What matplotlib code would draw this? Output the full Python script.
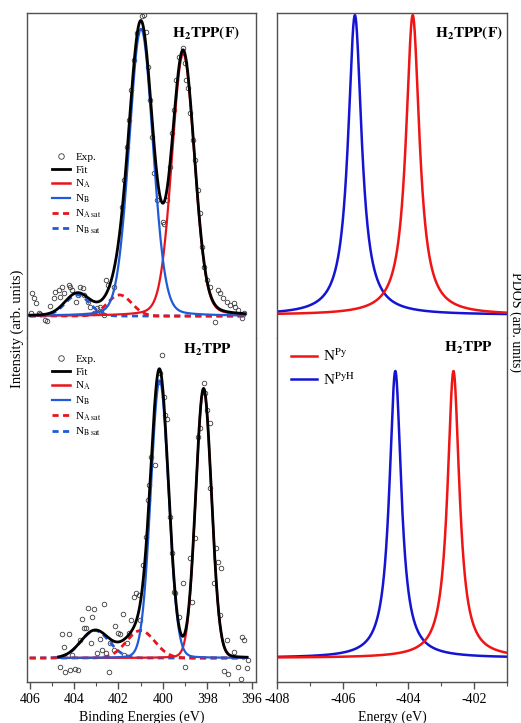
import numpy as np
import matplotlib.pyplot as plt
from matplotlib.lines import Line2D
from matplotlib.ticker import MultipleLocator

plt.rcParams['font.family'] = ['Liberation Serif', 'DejaVu Serif']
plt.rcParams['mathtext.fontset'] = 'stix'
plt.rcParams['axes.unicode_minus'] = False

# XPS N1s fit components: centre (eV), height, FWHM (eV), lorentzian fraction
# order: N_A, N_B, N_A sat, N_B sat
f_centre = [399.08, 400.98, 401.95, 403.85]
f_height = [0.895, 0.98, 0.072, 0.072]
f_fwhm = [1.20, 1.26, 1.30, 1.30]
f_eta = [0.15, 0.12, 0.0, 0.0]

p_centre = [398.16, 400.14, 401.00, 403.05]
p_height = [0.93, 0.96, 0.095, 0.095]
p_fwhm = [0.84, 0.94, 1.50, 1.50]
p_eta = [0.05, 0.05, 0.0, 0.0]

# measured points, H2TPP(F)
f_exp_e = [405.89, 405.82, 405.71, 405.92, 405.59, 405.52, 405.32, 405.22, 405.07, 404.92,
           404.84, 404.69, 404.62, 404.54, 404.47, 404.24, 404.17, 404.09, 403.72, 403.59,
           403.84, 403.57, 403.39, 403.90, 403.27, 403.09, 402.96, 402.85, 402.78, 402.67,
           402.55, 402.49, 402.22, 401.84, 401.73, 401.61, 401.52, 401.42, 401.31, 401.16,
           400.94, 400.86, 400.76, 400.67, 400.59, 400.49, 400.38, 400.26, 399.99, 399.96,
           399.81, 399.69, 399.59, 399.51, 399.41, 399.29, 399.09, 399.02, 398.94, 398.88,
           398.76, 398.64, 398.54, 398.43, 398.34, 398.23, 398.13, 398.01, 397.89, 397.64,
           397.53, 397.41, 397.29, 397.11, 396.96, 396.81, 396.73, 396.59, 396.43, 396.36]
f_exp_i = [0.077, 0.063, 0.043, 0.009, 0.009, 0.007, -0.014, -0.016, 0.034, 0.060,
           0.083, 0.089, 0.064, 0.098, 0.077, 0.106, 0.098, 0.089, 0.100, 0.095,
           0.072, 0.072, 0.049, 0.049, 0.032, 0.011, 0.026, 0.032, 0.015, 0.003,
           0.123, 0.106, 0.100, 0.373, 0.464, 0.578, 0.669, 0.771, 0.874, 0.965,
           1.024, 1.027, 0.970, 0.851, 0.737, 0.612, 0.487, 0.396, 0.322, 0.314,
           0.396, 0.510, 0.624, 0.703, 0.805, 0.885, 0.914, 0.862, 0.805, 0.777,
           0.692, 0.600, 0.532, 0.430, 0.350, 0.237, 0.168, 0.123, 0.100, -0.019,
           0.089, 0.077, 0.060, 0.049, 0.038, 0.043, 0.032, 0.020, -0.008, 0.009]

# measured points, H2TPP
p_exp_e = [404.62, 404.54, 404.47, 404.39, 404.24, 404.17, 404.09, 403.94, 403.84, 403.75,
           403.64, 403.57, 403.45, 403.39, 403.19, 403.09, 403.23, 402.96, 402.85, 402.74,
           402.64, 402.55, 402.44, 402.36, 402.22, 402.14, 402.04, 401.95, 401.79, 401.73,
           401.61, 401.54, 401.42, 401.28, 401.19, 401.09, 401.01, 400.89, 400.76, 400.67,
           400.61, 400.53, 400.37, 400.23, 400.14, 400.04, 399.96, 399.89, 399.81, 399.66,
           399.59, 399.51, 399.44, 399.29, 399.09, 398.99, 398.76, 398.68, 398.54, 398.43,
           398.31, 398.16, 398.09, 398.01, 397.89, 397.86, 397.68, 397.59, 397.53, 397.38,
           397.41, 397.11, 397.23, 397.04, 396.81, 396.59, 396.48, 396.43, 396.33, 396.21,
           396.16]
p_exp_i = [-0.032, 0.083, 0.039, -0.047, 0.083, -0.042, 0.010, -0.039, -0.042, 0.062,
           0.134, 0.103, 0.103, 0.174, 0.143, 0.168, 0.051, 0.016, 0.065, 0.028,
           0.187, 0.016, -0.047, 0.051, 0.028, 0.111, 0.085, 0.083, 0.152, 0.010,
           0.051, 0.085, 0.131, 0.212, 0.224, 0.218, 0.131, 0.322, 0.420, 0.547,
           0.599, 0.697, 0.668, 0.956, 0.985, 1.048, 0.904, 0.841, 0.826, 0.489,
           0.362, 0.229, 0.224, 0.143, 0.258, -0.030, 0.345, 0.195, 0.414, 0.766,
           0.795, 0.950, 0.916, 0.858, 0.812, 0.587, 0.258, 0.380, 0.333, 0.310,
           0.149, 0.062, -0.044, -0.056, 0.022, -0.030, -0.074, 0.074, 0.062, -0.036,
           -0.007]

# PDOS levels: centre (eV), lorentzian half width (eV); order N^Py, N^PyH
dos_f_centre = [-403.87, -405.63]
dos_f_gamma = [0.25, 0.25]
dos_p_centre = [-402.63, -404.40]
dos_p_gamma = [0.22, 0.22]

RED = '#e8141c'
BLUE = '#1f5bd8'
DRED = '#f01414'
DBLUE = '#1414d2'
SPINE = '#505050'


def pvoigt(x, c, h, fwhm, eta):
    u = (x - c) / (fwhm / 2)
    return h * ((1 - eta) * np.exp(-np.log(2) * u**2) + eta / (1 + u**2))


def lorentz(x, c, g):
    return 1 / (1 + ((x - c) / g)**2)


fig = plt.figure(figsize=(5.21, 7.23), dpi=100)
axLT = fig.add_axes([0.0518, 0.5325, 0.4395, 0.4495])
axLB = fig.add_axes([0.0518, 0.0567, 0.4395, 0.4758])
axRT = fig.add_axes([0.5317, 0.5325, 0.4415, 0.4495])
axRB = fig.add_axes([0.5317, 0.0567, 0.4415, 0.4758])

for ax in (axLT, axLB, axRT, axRB):
    ax.set_yticks([])
    for s in ax.spines.values():
        s.set_color(SPINE)
        s.set_linewidth(1.0)
for ax in (axLT, axRT):
    ax.spines['bottom'].set_visible(False)
    ax.set_xticks([])
for ax in (axLB, axRB):
    ax.spines['top'].set_visible(False)


def xps_panel(ax, cen, hgt, fw, eta, ee, ii, erange, ylim):
    x = np.linspace(erange[0], erange[1], 800)
    xs = np.linspace(406.0, 396.3, 800)
    comps = [pvoigt(x, cen[k], hgt[k], fw[k], eta[k]) for k in range(4)]
    fit = np.sum(comps, axis=0)
    ax.plot(ee, ii, 'o', mfc='none', mec='#3a3a3a', ms=3.3, mew=0.6, zorder=2)
    ax.plot(xs, pvoigt(xs, cen[3], hgt[3], fw[3], eta[3]), color=BLUE, lw=2.0,
            ls=(0, (2.2, 1.6)), zorder=3)
    ax.plot(xs, pvoigt(xs, cen[2], hgt[2], fw[2], eta[2]), color=RED, lw=2.0,
            ls=(0, (2.2, 1.6)), zorder=3)
    ax.plot(x, comps[0], color=RED, lw=1.6, zorder=4)
    ax.plot(x, comps[1], color=BLUE, lw=1.6, zorder=4)
    ax.plot(x, fit, color='black', lw=2.0, zorder=5)
    ax.set_xlim(406.12, 395.8)
    ax.set_ylim(*ylim)


xps_panel(axLT, f_centre, f_height, f_fwhm, f_eta, f_exp_e, f_exp_i,
          (406.0, 396.3), (-0.075, 1.034))
xps_panel(axLB, p_centre, p_height, p_fwhm, p_eta, p_exp_e, p_exp_i,
          (404.7, 396.2), (-0.083, 1.107))
axLT.text(0.93, 0.965, r'$\mathbf{H_2TPP(F)}$', transform=axLT.transAxes,
          ha='right', va='top', fontsize=11)
axLB.text(0.895, 0.99, r'$\mathbf{H_2TPP}$', transform=axLB.transAxes,
          ha='right', va='top', fontsize=11)

handles = [Line2D([], [], ls='none', marker='o', mfc='none', mec='#3a3a3a', ms=4, mew=0.6),
           Line2D([], [], color='black', lw=2.0),
           Line2D([], [], color=RED, lw=1.8),
           Line2D([], [], color=BLUE, lw=1.6),
           Line2D([], [], color=RED, lw=2.0, ls=(0, (2.2, 1.6))),
           Line2D([], [], color=BLUE, lw=2.0, ls=(0, (2.2, 1.6)))]
labels = ['Exp.', 'Fit', r'N$_\mathrm{A}$', r'N$_\mathrm{B}$',
          r'N$_\mathrm{A\ sat}$', r'N$_\mathrm{B\ sat}$']
for ax, pos in ((axLT, (0.09, 0.585)), (axLB, (0.09, 0.965))):
    ax.legend(handles, labels, loc='upper left', bbox_to_anchor=pos, frameon=False,
              fontsize=8, handlelength=1.6, handletextpad=0.5, labelspacing=0.25,
              borderaxespad=0)

# PDOS panels
xd = np.linspace(-408, -401, 1000)
for ax, cen, gam, ylim in ((axRT, dos_f_centre, dos_f_gamma, (-0.077, 1.007)),
                           (axRB, dos_p_centre, dos_p_gamma, (-0.084, 1.115))):
    ax.plot(xd, lorentz(xd, cen[1], gam[1]), color=DBLUE, lw=1.8, label=r'N$^{\mathrm{PyH}}$')
    ax.plot(xd, lorentz(xd, cen[0], gam[0]), color=DRED, lw=1.8, label=r'N$^{\mathrm{Py}}$')
    ax.set_xlim(-408, -401)
    ax.set_ylim(*ylim)
axRT.text(0.983, 0.965, r'$\mathbf{H_2TPP(F)}$', transform=axRT.transAxes,
          ha='right', va='top', fontsize=11)
axRB.text(0.94, 0.995, r'$\mathbf{H_2TPP}$', transform=axRB.transAxes,
          ha='right', va='top', fontsize=11)
h, l = axRB.get_legend_handles_labels()
axRB.legend(h[::-1], l[::-1], loc='upper left', bbox_to_anchor=(0.035, 0.99), frameon=False,
            fontsize=11, handlelength=1.7, handletextpad=0.4, labelspacing=0.45,
            borderaxespad=0)

axLB.xaxis.set_major_locator(MultipleLocator(2))
axLB.xaxis.set_minor_locator(MultipleLocator(1))
axRB.xaxis.set_major_locator(MultipleLocator(2))
axRB.xaxis.set_minor_locator(MultipleLocator(1))
for ax in (axLB, axRB):
    ax.tick_params(axis='x', which='major', direction='out', length=5, width=1.0,
                   color=SPINE, labelsize=10, pad=3)
    ax.tick_params(axis='x', which='minor', direction='out', length=3, width=0.8,
                   color=SPINE)
axLB.set_xlabel('Binding Energies (eV)', fontsize=10, labelpad=3)
axRB.set_xlabel('Energy (eV)', fontsize=10, labelpad=3)

fig.text(0.033, 0.545, 'Intensity (arb. units)', rotation=90, ha='center', va='center',
         fontsize=10.5)
fig.text(0.99, 0.555, 'PDOS (arb. units)', rotation=270, ha='center', va='center',
         fontsize=10)

fig.savefig('out.png', dpi=100)
